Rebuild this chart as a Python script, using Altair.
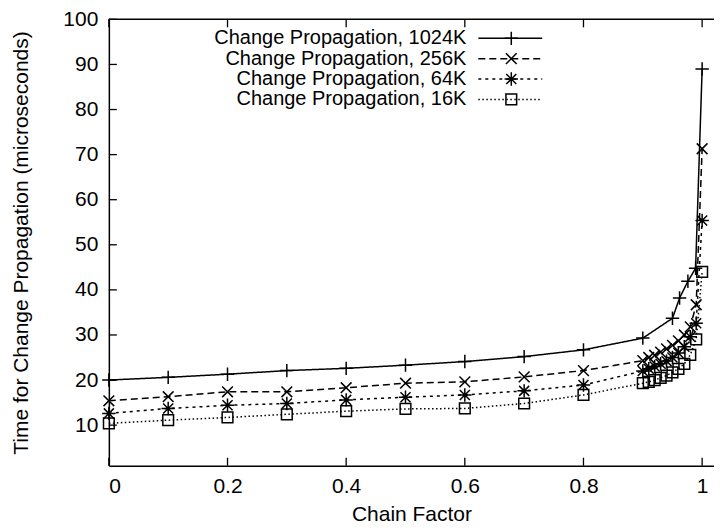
import altair as alt
import pandas as pd

# ---------------- data ----------------
series_names = [
    "Change Propagation, 1024K",
    "Change Propagation, 256K",
    "Change Propagation, 64K",
    "Change Propagation, 16K",
]

x_low = [0.0, 0.1, 0.2, 0.3, 0.4, 0.5, 0.6, 0.7, 0.8, 0.9]
x_high_fine = [0.91, 0.92, 0.93, 0.94, 0.95, 0.96, 0.97, 0.98, 0.99, 1.0]
x_high_1024 = [0.95, 0.962, 0.976, 0.989, 1.0]

y_1024 = [20.0, 20.6, 21.3, 22.1, 22.6, 23.3, 24.1, 25.2, 26.7, 29.3,
          33.7, 38.2, 41.9, 44.8, 89.0]
y_256 = [15.4, 16.3, 17.4, 17.4, 18.3, 19.3, 19.6, 20.7, 22.1, 24.3,
         25.0, 25.5, 26.2, 26.9, 27.7, 28.7, 30.0, 31.8, 36.7, 71.3]
y_64 = [12.6, 13.7, 14.4, 14.8, 15.6, 16.2, 16.7, 17.6, 18.9, 22.0,
        22.5, 23.0, 23.6, 24.2, 25.0, 26.0, 27.4, 29.6, 32.6, 55.4]
y_16 = [10.4, 11.1, 11.7, 12.4, 13.1, 13.6, 13.7, 14.8, 16.7, 19.3,
        19.6, 20.0, 20.5, 21.0, 21.7, 22.5, 23.6, 25.6, 29.0, 44.0]

x_ticks = [0.0, 0.2, 0.4, 0.6, 0.8, 1.0]
y_ticks = [10, 20, 30, 40, 50, 60, 70, 80, 90, 100]

xs = {
    series_names[0]: x_low + x_high_1024,
    series_names[1]: x_low + x_high_fine,
    series_names[2]: x_low + x_high_fine,
    series_names[3]: x_low + x_high_fine,
}
ys = {
    series_names[0]: y_1024,
    series_names[1]: y_256,
    series_names[2]: y_64,
    series_names[3]: y_16,
}

rows = []
for s in series_names:
    for i, (xv, yv) in enumerate(zip(xs[s], ys[s])):
        rows.append({"series": s, "x": xv, "y": yv, "order": i})
df = pd.DataFrame(rows)

# ---------------- styles ----------------
W, H = 606, 447
FONT = "Liberation Sans"
FS = 21
LFS = 20
dashes = [[1, 0], [7, 4], [3, 4], [1.5, 2.5]]
shapes = [
    "M-1,0L1,0M0,-1L0,1",                       # +
    "M-0.8,-0.8L0.8,0.8M-0.8,0.8L0.8,-0.8",     # x
    "M-1,0L1,0M0,-1L0,1M-0.75,-0.75L0.75,0.75M-0.75,0.75L0.75,-0.75",  # *
    "M-0.8,-0.8L0.8,-0.8L0.8,0.8L-0.8,0.8Z",    # square
]
MSIZE = 180

xscale = alt.Scale(domain=[0, 1.02], nice=False, zero=False)
yscale = alt.Scale(domain=[1, 100], nice=False, zero=False)

base = alt.Chart(df)

lines = base.mark_line(color="black", strokeWidth=1.5).encode(
    x=alt.X("x:Q", scale=xscale,
            axis=alt.Axis(values=x_ticks, title="Chain Factor",
                          labelExpr="format(datum.value, '~g')")),
    y=alt.Y("y:Q", scale=yscale,
            axis=alt.Axis(values=y_ticks,
                          title="Time for Change Propagation (microseconds)")),
    strokeDash=alt.StrokeDash("series:N", scale=alt.Scale(domain=series_names, range=dashes), legend=None),
    detail="series:N",
    order="order:Q",
)

points = base.mark_point(color="black", filled=False, strokeWidth=1.5, size=MSIZE, opacity=1).encode(
    x=alt.X("x:Q", scale=xscale),
    y=alt.Y("y:Q", scale=yscale),
    shape=alt.Shape("series:N", scale=alt.Scale(domain=series_names, range=shapes), legend=None),
)

# tick marks pointing inward (gnuplot style)
xt_df = pd.DataFrame({"x": x_ticks})
yt_df = pd.DataFrame({"y": y_ticks})
TL = 8
xticks_bottom = alt.Chart(xt_df).mark_rule(color="black", strokeWidth=1.3).encode(
    x=alt.X("x:Q", scale=xscale), y=alt.value(H), y2=alt.value(H - TL))
xticks_top = alt.Chart(xt_df).mark_rule(color="black", strokeWidth=1.3).encode(
    x=alt.X("x:Q", scale=xscale), y=alt.value(0), y2=alt.value(TL))
yticks_left = alt.Chart(yt_df).mark_rule(color="black", strokeWidth=1.3).encode(
    y=alt.Y("y:Q", scale=yscale), x=alt.value(0), x2=alt.value(TL))

one = pd.DataFrame({"a": [0]})
top_border = alt.Chart(one).mark_rule(color="black", strokeWidth=1.5).encode(
    x=alt.value(0), x2=alt.value(W), y=alt.value(0))

# legend (gnuplot-style key: text right-aligned, then sample line + marker)
legend_layers = []
for i, s in enumerate(series_names):
    yy = 19 + 20.4 * i
    legend_layers.append(
        alt.Chart(one).mark_text(align="right", baseline="middle", font=FONT,
                                 fontSize=LFS, color="black").encode(
            x=alt.value(358), y=alt.value(yy), text=alt.value(s)))
    legend_layers.append(
        alt.Chart(one).mark_rule(color="black", strokeWidth=1.5, strokeDash=dashes[i]).encode(
            x=alt.value(370), x2=alt.value(434), y=alt.value(yy)))
    legend_layers.append(
        alt.Chart(one).mark_point(color="black", filled=False, strokeWidth=1.5,
                                  size=MSIZE, shape=shapes[i], opacity=1).encode(
            x=alt.value(403), y=alt.value(yy)))

chart = alt.layer(
    lines, points, xticks_bottom, xticks_top, yticks_left, top_border, *legend_layers
).properties(
    width=W, height=H,
    autosize=alt.AutoSizeParams(type="none"),
    padding={"left": 101, "top": 11, "right": 0, "bottom": 60},
).configure_view(
    stroke=None
).configure_axis(
    grid=False, ticks=False, domain=True, domainColor="black", domainWidth=1.5,
    labelFont=FONT, labelFontSize=FS, labelColor="black",
    titleFont=FONT, titleFontSize=FS, titleColor="black", titleFontWeight="normal",
).configure_axisX(
    labelPadding=10, titlePadding=7,
).configure_axisY(
    labelPadding=11, titlePadding=31,
)

chart.save("out.html", embed_options={"renderer": "svg", "actions": False})
